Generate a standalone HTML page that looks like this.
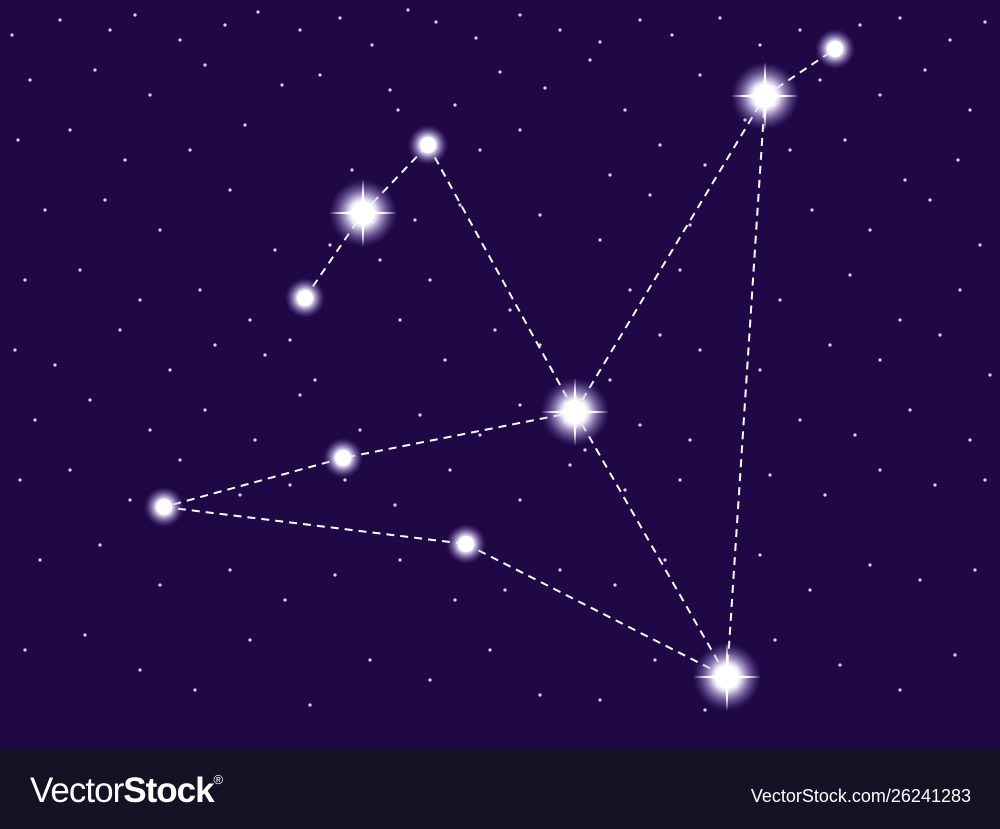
<!DOCTYPE html>
<html><head><meta charset="utf-8"><style>
html,body{margin:0;padding:0;width:1000px;height:829px;overflow:hidden;background:#1f0845}
svg{display:block}
</style></head><body>
<svg width="1000" height="829" viewBox="0 0 1000 829">
<defs>
<radialGradient id="glow"><stop offset="0" stop-color="#fff" stop-opacity="1"/><stop offset="0.4" stop-color="#f4efff" stop-opacity="0.95"/><stop offset="0.7" stop-color="#bfaeea" stop-opacity="0.45"/><stop offset="1" stop-color="#7d62c0" stop-opacity="0"/></radialGradient>
</defs>
<rect x="0" y="0" width="1000" height="749" fill="#1f0845"/>
<g id="dust"></g>
<g id="lines"></g>
<g id="stars"></g>
<rect x="0" y="749" width="1000" height="80" fill="#131325"/>
<text x="30" y="802" fill="#fff" font-family="Liberation Sans, sans-serif" font-size="35" letter-spacing="-1"><tspan font-weight="300">Vector</tspan><tspan font-weight="bold">Stock</tspan><tspan font-size="13" dy="-18">®</tspan></text>
<text x="971" y="802" text-anchor="end" fill="#fff" font-family="Liberation Sans, sans-serif" font-size="18">VectorStock.com/26241283</text>
</svg>
<script>
const starX=[363,765,575,727,428,305,835,343,164,466];
const starY=[213,96,412,677,145,298,49,458,507,544];
const starBright=[1,1,1,1,0,0,0,0,0,0];
const links=[[5,0],[0,4],[4,2],[2,1],[1,6],[1,3],[2,3],[2,7],[7,8],[8,9],[9,3]];
const dustX=[12,60,110,135,180,225,258,300,340,372,408,436,476,520,560,600,640,672,720,760,800,860,900,950,985,
30,95,150,205,282,320,390,455,500,545,590,625,700,745,820,880,925,970,
18,70,125,190,245,352,398,480,520,610,660,705,790,845,905,958,
45,105,160,230,275,330,415,460,540,600,650,690,812,870,930,980,
25,80,140,200,250,290,380,430,510,630,680,780,850,900,960,
15,55,120,170,215,265,315,400,445,495,540,610,660,700,760,830,880,940,990,
35,90,150,205,255,300,360,420,480,520,585,640,690,800,855,910,970,
20,70,130,180,240,290,345,395,450,520,570,625,680,770,825,880,935,985,
40,100,160,230,285,335,400,455,505,560,615,665,760,810,870,920,975,
25,85,140,195,250,310,370,430,490,540,600,655,705,775,840,900,955];
const dustY=[35,20,30,15,40,25,12,30,18,45,10,22,38,15,30,42,20,35,18,45,30,25,18,40,22,
80,70,95,65,85,75,90,105,72,88,60,110,75,120,80,95,70,110,
140,130,160,150,125,170,110,150,130,175,145,165,150,140,180,160,
210,200,230,190,250,245,220,205,215,240,195,225,210,230,200,245,
280,270,300,290,320,340,260,280,310,290,270,300,275,320,290,
350,365,330,370,345,355,380,320,360,330,345,380,335,350,370,345,360,335,375,
420,400,430,410,440,395,430,415,435,405,450,425,440,420,435,410,440,
480,470,500,460,495,485,480,505,470,500,465,490,480,475,495,470,485,480,
560,545,585,570,600,575,560,600,590,570,585,560,555,590,565,580,570,
650,635,670,690,640,705,660,680,650,695,700,660,710,640,665,690,655];
const NS='http://www.w3.org/2000/svg';
const dust=document.getElementById('dust');
for(let i=0;i<dustX.length;i++){
 const c=document.createElementNS(NS,'circle');
 c.setAttribute('cx',dustX[i]);c.setAttribute('cy',dustY[i]);c.setAttribute('r',1.6);c.setAttribute('fill','#d8d0f0');
 
 
 dust.appendChild(c);
}
const lg=document.getElementById('lines');
links.forEach(([a,b])=>{
 const l=document.createElementNS(NS,'line');
 l.setAttribute('x1',starX[a]);l.setAttribute('y1',starY[a]);l.setAttribute('x2',starX[b]);l.setAttribute('y2',starY[b]);
 l.setAttribute('stroke','#fff');l.setAttribute('stroke-width','2');l.setAttribute('stroke-dasharray','8 6');
 
 
 lg.appendChild(l);
});
const sg=document.getElementById('stars');
for(let i=0;i<starX.length;i++){
 const g=document.createElementNS(NS,'g');
 
 
 const x=starX[i],y=starY[i];
 const R=starBright[i]?34:20;
 const gl=document.createElementNS(NS,'circle');
 gl.setAttribute('cx',x);gl.setAttribute('cy',y);gl.setAttribute('r',R);gl.setAttribute('fill','url(#glow)');g.appendChild(gl);
 if(starBright[i]){
  const sp=document.createElementNS(NS,'path');
  const L=34,S=16,w=2.4;
  let d=`M${x-L} ${y}L${x} ${y-w}L${x+L} ${y}L${x} ${y+w}Z M${x} ${y-L}L${x+w} ${y}L${x} ${y+L}L${x-w} ${y}Z`;
  const k=S*0.707;
  d+=`M${x-k} ${y-k}L${x+1.5} ${y-1.5}L${x+k} ${y+k}L${x-1.5} ${y+1.5}Z M${x+k} ${y-k}L${x+1.5} ${y+1.5}L${x-k} ${y+k}L${x-1.5} ${y-1.5}Z`;
  sp.setAttribute('d',d);sp.setAttribute('fill','#fff');g.appendChild(sp);
 }
 const core=document.createElementNS(NS,'circle');
 core.setAttribute('cx',x);core.setAttribute('cy',y);core.setAttribute('r',starBright[i]?12:8);core.setAttribute('fill','#fff');g.appendChild(core);
 sg.appendChild(g);
}
</script>
</body></html>
